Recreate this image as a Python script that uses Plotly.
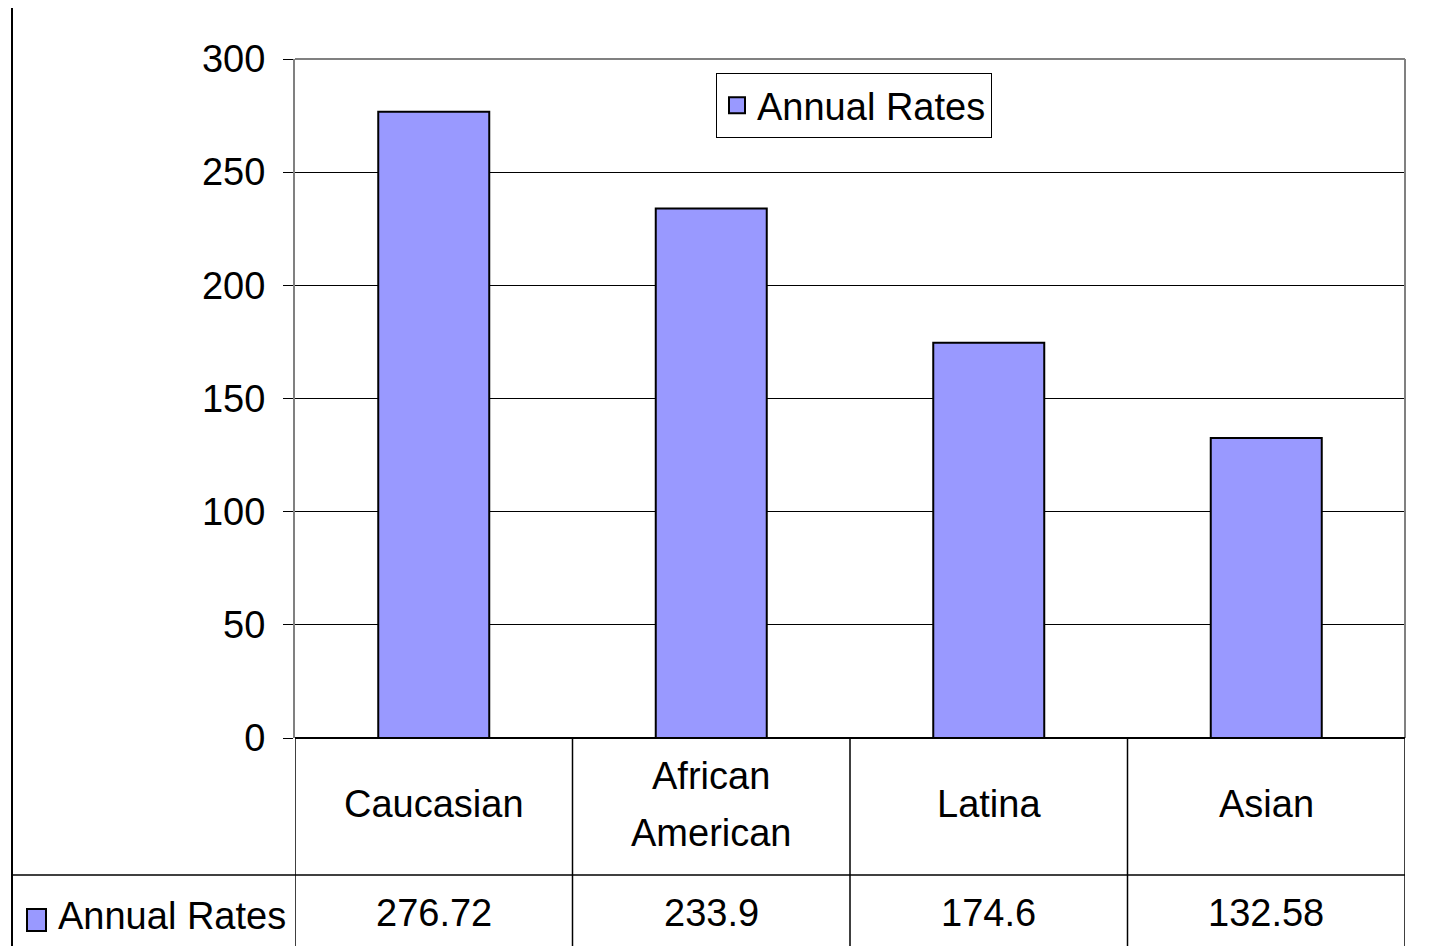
import plotly.graph_objects as go

categories = ["Caucasian", "African<br>American", "Latina", "Asian"]
values = [276.72, 233.9, 174.6, 132.58]
value_labels = ["276.72", "233.9", "174.6", "132.58"]
series_name = "Annual Rates"
y_ticks = [0, 50, 100, 150, 200, 250, 300]

FONT = "Liberation Sans Narrow, Arial Narrow, Liberation Sans, Arial, sans-serif"
FS = 38
BAR_COLOR = "#9999FF"

OFF = 8  # page body margin
W, H = 1437, 946
PL, PR, PT, PB = 295, 1405, 59, 738
ML = PL - OFF
MT = PT - OFF
MR = W - (PR - OFF)
MB = H - (PB - OFF)
PW = PR - PL
PH = PB - PT


def px_x(p):
    return (p - PL) / PW


def px_y(p):
    return (PB - p) / PH


xs = list(range(len(categories)))

fig = go.Figure()
fig.add_trace(go.Bar(
    x=xs, y=values, name=series_name,
    marker=dict(color=BAR_COLOR, line=dict(color="black", width=2)),
    showlegend=False,
))
fig.add_trace(go.Scatter(
    x=[None], y=[None], mode="markers", name=series_name,
    marker=dict(symbol="square", size=20, color=BAR_COLOR, line=dict(color="black", width=2)),
    showlegend=True, hoverinfo="skip",
))

shapes = []
shapes.append(dict(type="line", xref="paper", yref="paper", x0=0, x1=1, y0=1, y1=1,
                   line=dict(color="#808080", width=2)))
shapes.append(dict(type="line", xref="paper", yref="paper", x0=1, x1=1, y0=0, y1=1,
                   line=dict(color="#808080", width=2)))
n = len(categories)
for i in range(n + 1):
    shapes.append(dict(type="line", xref="x", yref="paper", x0=i - 0.5, x1=i - 0.5,
                       y0=0, y1=px_y(H + 20), line=dict(color="black", width=1.5)))
shapes.append(dict(type="line", xref="paper", yref="paper", x0=px_x(12), x1=1,
                   y0=px_y(875), y1=px_y(875), line=dict(color="black", width=1.5)))
shapes.append(dict(type="line", xref="paper", yref="paper", x0=0, x1=1,
                   y0=0, y1=0, line=dict(color="black", width=2)))
shapes.append(dict(type="line", xref="paper", yref="paper", x0=px_x(12), x1=px_x(12),
                   y0=px_y(7), y1=px_y(H + 20), line=dict(color="black", width=2)))
shapes.append(dict(type="rect", xref="paper", yref="paper", x0=px_x(27), x1=px_x(46),
                   y0=px_y(931), y1=px_y(909), fillcolor=BAR_COLOR,
                   line=dict(color="black", width=2)))

annotations = []
LINE_STEP = 57
for i, c in enumerate(categories):
    lines = c.split("<br>")
    k = len(lines)
    for j, ln in enumerate(lines):
        cy = 804 + (j - (k - 1) / 2) * LINE_STEP
        annotations.append(dict(x=i, xref="x", y=px_y(cy), yref="paper", text=ln,
                                showarrow=False, xanchor="center", yanchor="middle",
                                font=dict(family=FONT, size=FS, color="black")))
    annotations.append(dict(x=i, xref="x", y=px_y(913), yref="paper", text=value_labels[i],
                            showarrow=False, xanchor="center", yanchor="middle",
                            font=dict(family=FONT, size=FS, color="black")))
annotations.append(dict(x=px_x(56), xref="paper", y=px_y(916), yref="paper", text=series_name,
                        showarrow=False, xanchor="left", yanchor="middle",
                        font=dict(family=FONT, size=FS, color="black")))

fig.update_layout(
    width=W, height=H,
    margin=dict(l=ML, r=MR, t=MT, b=MB, pad=0),
    paper_bgcolor="white", plot_bgcolor="white",
    font=dict(family=FONT, size=FS, color="black"),
    bargap=0.6,
    shapes=shapes,
    annotations=annotations,
    legend=dict(x=px_x(716), y=px_y(73), xanchor="left", yanchor="top",
                bordercolor="black", borderwidth=1, bgcolor="white",
                itemsizing="trace",
                font=dict(family=FONT, size=FS, color="black")),
    xaxis=dict(range=[-0.5, n - 0.5], showticklabels=False, showgrid=False,
               zeroline=False, showline=False, ticks=""),
    yaxis=dict(range=[0, 300], tickvals=y_ticks, showgrid=True, gridcolor="black",
               gridwidth=1, zeroline=False, showline=True, linecolor="#808080",
               linewidth=2, ticks="outside", ticklen=10, tickcolor="black",
               tickfont=dict(family=FONT, size=FS, color="black"),
               ticklabelstandoff=10),
)

fig.write_html("out.html")
